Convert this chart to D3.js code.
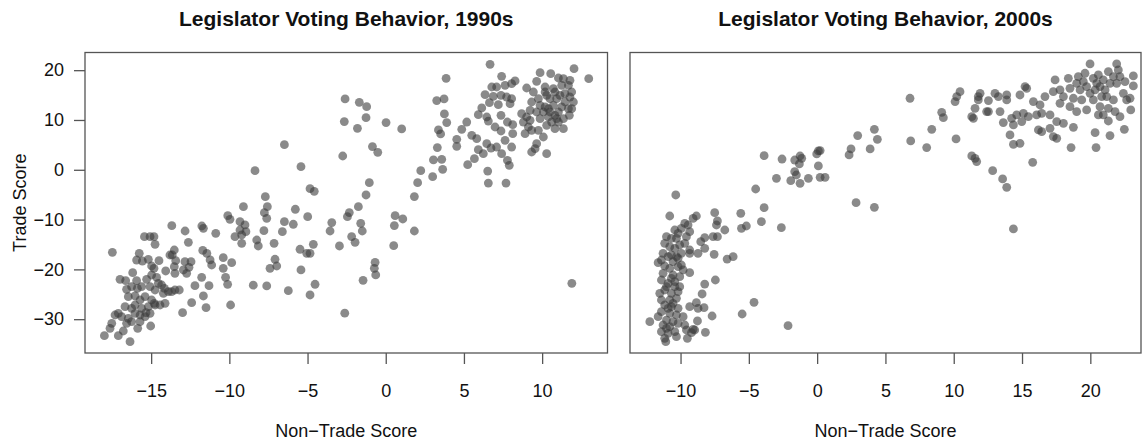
<!DOCTYPE html>
<html>
<head>
<meta charset="utf-8">
<script src="https://cdnjs.cloudflare.com/ajax/libs/d3/7.8.5/d3.min.js"></script>
<style>
  body { margin: 0; background: #fff; }
  text { font-family: "Liberation Sans", Arial, Helvetica, sans-serif; fill: #111; }
</style>
</head>
<body>
<svg id="chart" width="1143" height="441"></svg>
<script>
// [non-trade score, trade score]
var votes1990 = [
  [-17.48,-16.58],[-15.76,-16.78],[-15.93,-18.12],[-15.56,-18.32],[-15.18,-17.98],[-14.97,-19.32],[-14.82,-19.79],
  [-14.5,-18.25],[-13.52,-16.11],[-13.65,-17.11],[-13.8,-17.11],[-13.43,-18.25],[-12.84,-18.45],[-12.45,-18.45],
  [-12.58,-19.59],[-12.73,-20.79],[-12.94,-20.12],[-13.52,-19.45],[-13.48,-20.79],[-14.07,-20.32],[-16.18,-20.66],
  [-16.99,-22.0],[-16.63,-22.27],[-15.93,-22.27],[-16.25,-23.47],[-16.57,-24.0],[-15.88,-23.8],[-15.61,-23.47],
  [-15.29,-22.0],[-14.97,-21.13],[-14.65,-21.6],[-14.54,-22.8],[-15.07,-23.47],[-14.75,-24.14],[-14.33,-23.14],
  [-14.15,-23.8],[-13.9,-24.47],[-14.22,-24.81],[-13.69,-24.47],[-13.48,-24.14],[-13.2,-24.14],[-11.77,-21.6],
  [-11.3,-23.27],[-12.2,-23.27],[-11.66,-25.34],[-12.41,-26.68],[-11.49,-27.69],[-12.99,-28.69],[-9.92,-27.15],
  [-10.39,-17.65],[-9.85,-18.65],[-10.39,-19.79],[-10.24,-21.6],[-10.11,-23.0],[-16.46,-25.48],[-16.03,-25.34],
  [-15.71,-26.15],[-15.39,-25.48],[-14.97,-26.15],[-14.75,-27.15],[-15.18,-27.49],[-15.61,-27.82],[-16.03,-27.15],
  [-16.25,-27.82],[-16.67,-27.49],[-17.1,-28.82],[-17.31,-29.16],[-16.89,-29.49],[-16.46,-29.83],[-16.03,-28.82],
  [-15.71,-29.16],[-15.39,-29.49],[-15.07,-28.82],[-14.8,-26.82],[-14.43,-27.15],[-14.11,-26.82],[-15.71,-30.5],
  [-16.25,-30.5],[-16.57,-30.83],[-17.52,-30.83],[-17.63,-31.84],[-17.99,-33.31],[-17.1,-33.31],[-16.78,-32.37],
  [-16.35,-34.51],[-15.86,-31.84],[-15.03,-31.37],[-15.33,-28.69],
  [-8.94,-12.43],[-7.79,-12.23],[-11.44,-16.77],[-11.23,-18.11],[-11.13,-19.12],[-11.7,-16.2],
  [-6.48,5.04],[-8.36,-0.18],[-5.42,0.62],[-4.84,-3.8],[-4.57,-4.32],[-5.78,-7.93],[-4.99,-9.42],[-5.91,-10.94],
  [-5.48,-15.96],[-5.05,-16.77],[-4.84,-16.77],[-4.63,-14.96],[-5.42,-20.1],[-6.23,-24.28],[-4.52,-22.99],
  [-4.84,-25.14],[-7.7,-5.4],[-7.57,-7.41],[-7.76,-8.61],[-7.61,-9.74],[-9.1,-7.41],[-10.1,-9.22],[-9.96,-9.94],
  [-9.32,-10.42],[-9.0,-11.08],[-9.32,-12.09],[-9.21,-13.09],[-9.64,-13.43],[-9.21,-14.76],[-6.48,-10.42],
  [-6.61,-12.43],[-8.25,-14.1],[-8.15,-15.3],[-7.14,-14.76],[-7.08,-17.97],[-6.97,-19.32],[-7.4,-19.78],
  [-8.47,-23.17],[-7.61,-23.33],[-13.68,-11.22],[-12.83,-12.29],[-12.62,-14.56],[-11.76,-11.29],[-11.66,-11.75],
  [-10.87,-12.75],[-15.43,-13.43],[-15.07,-13.43],[-14.82,-13.43],[-14.75,-14.97],[-2.62,-28.8],
  [-2.6,14.22],[-1.69,13.55],[-1.22,12.68],[-1.26,10.47],[-2.65,9.67],[-1.81,8.33],[0.02,9.47],[1.02,8.2],
  [-0.85,4.65],[-0.51,3.51],[-2.75,2.77],[-1.05,-2.58],[-1.26,-5.06],[-1.75,-7.4],[-2.33,-8.6],[-2.45,-9.41],
  [-3.45,-10.61],[-3.56,-12.29],[-1.6,-10.75],[-1.5,-12.29],[-2.18,-13.42],[-1.96,-14.56],[-2.96,-15.3],
  [-0.68,-18.58],[-0.73,-19.78],[-0.64,-21.12],[-1.45,-22.2],[3.86,18.37],[3.26,13.89],[3.73,14.22],[3.75,11.21],
  [3.9,9.47],[3.37,8.0],[3.51,7.19],[3.3,4.45],[3.05,1.97],[3.58,2.1],[3.64,0.1],[3.0,-1.38],[2.24,-0.17],
  [2.04,-2.58],[1.83,-5.39],[0.6,-9.21],[1.09,-9.88],[0.55,-11.21],[1.83,-12.29],[0.51,-15.23],
  [6.67,21.17],[7.41,18.76],[8.05,17.29],[8.27,17.83],[7.63,16.96],[7.09,16.62],[6.78,16.62],[6.35,15.08],
  [6.88,14.75],[7.37,14.95],[7.73,14.61],[8.05,14.28],[7.95,13.28],[7.2,13.07],[6.63,13.48],[6.14,12.41],
  [5.92,11.07],[6.46,10.6],[6.56,9.79],[7.37,10.93],[6.99,8.59],[7.37,7.79],[7.78,9.59],[8.12,9.06],[8.12,7.25],
  [7.63,5.91],[8.05,4.57],[7.09,4.57],[6.46,5.24],[5.92,4.04],[6.24,3.24],[6.73,4.37],[7.41,3.24],[7.78,1.9],
  [7.9,0.89],[5.67,2.23],[5.24,1.03],[5.18,9.59],[4.86,8.12],[4.54,6.11],[4.54,4.71],[5.5,6.92],[5.82,6.25],
  [6.52,-0.25],[6.56,-2.66],[7.69,-2.66],
  [9.87,19.5],[10.55,19.3],[11.04,18.43],[11.36,18.3],[11.78,17.96],[12.04,20.3],[12.98,18.3],[9.01,16.42],
  [9.65,17.76],[10.19,16.62],[10.72,16.29],[11.25,16.96],[11.68,16.96],[9.33,13.61],[9.76,14.28],[10.29,14.95],
  [10.93,14.28],[11.46,15.28],[11.78,14.61],[12.0,13.61],[8.69,11.27],[9.23,11.94],[9.65,11.6],[10.19,12.61],
  [10.72,12.94],[11.25,12.61],[11.68,12.27],[11.89,12.27],[8.8,9.59],[9.23,9.93],[9.87,10.26],[10.4,10.6],
  [10.82,10.93],[11.36,10.26],[11.74,10.93],[8.91,7.25],[9.33,7.92],[9.76,7.92],[10.29,8.92],[10.82,8.26],
  [11.36,8.26],[10.08,6.58],[9.65,5.24],[9.33,3.57],[10.29,3.24],[9.55,4.24],[10.5,14.28],[10.08,11.6],
  [10.5,11.6],[11.04,11.6],[9.87,12.94],[11.14,14.95],[9.44,15.62],[9.01,10.6],[10.61,9.59],[11.04,9.59],
  [11.46,13.61],[10.19,15.62],[9.12,8.59],[11.89,15.62],[10.82,15.62],[10.4,12.27],[10.93,10.26],
  [11.9,-22.8]
];

var votes2000 = [
  [-3.88,2.83],[-2.57,2.16],[-1.64,1.96],[-2.98,-1.72],[-1.93,-2.19],[-1.64,-0.38],[-1.52,-1.05],[-4.5,-3.86],
  [-10.35,-5.06],[-10.79,-9.28],[-8.84,-9.28],[-9.08,-9.75],[-7.5,-8.61],[-7.3,-10.28],[-7.37,-11.09],
  [-6.76,-12.09],[-7.3,-13.43],[-7.62,-13.43],[-5.59,-8.75],[-5.54,-11.76],[-5.18,-11.29],[-3.88,-7.61],
  [-4.08,-10.42],[-2.62,-11.62],[-8.23,-13.63],[-8.52,-14.43],[-8.72,-16.78],[-8.23,-15.77],[-9.33,-16.78],
  [-7.54,-16.98],[-6.59,-17.92],[-6.15,-17.45],[-7.45,-22.13],[-8.23,-22.94],[-8.42,-24.94],[-8.84,-26.68],
  [-8.72,-27.82],[-8.28,-27.69],[-9.33,-27.49],[-7.69,-29.36],[-8.76,-30.36],[-9.08,-32.04],[-8.18,-32.64],
  [-9.5,-33.84],[-9.57,-32.17],[-4.62,-26.62],[-5.49,-28.96],[-2.13,-31.3],[-12.25,-30.5],[-11.08,-34.52],
  [-10.3,-33.51],
  [-9.69,-10.75],[-9.94,-11.76],[-10.42,-12.09],[-11.03,-13.43],[-10.67,-13.77],[-10.3,-13.77],[-9.57,-13.43],
  [-10.18,-12.76],[-9.33,-12.43],[-9.45,-11.09],[-11.16,-14.77],[-10.79,-15.44],[-10.42,-15.77],[-10.06,-15.1],
  [-9.69,-14.77],[-11.28,-16.78],[-10.67,-17.11],[-10.3,-17.45],[-9.94,-16.78],[-9.33,-16.11],[-11.64,-18.65],
  [-11.16,-19.32],[-10.79,-19.79],[-10.18,-19.45],[-9.94,-19.12],[-11.28,-20.79],[-10.55,-21.13],[-10.06,-21.46],
  [-9.33,-20.66],[-9.81,-20.12],[-11.4,-22.13],[-10.91,-22.8],[-10.42,-22.47],[-10.06,-23.47],[-11.16,-24.14],
  [-11.52,-24.81],[-10.67,-24.81],[-10.18,-24.47],[-11.4,-26.15],[-10.79,-26.15],[-10.3,-25.81],[-11.16,-27.15],
  [-10.67,-27.49],[-10.18,-27.82],[-11.4,-28.49],[-10.79,-28.83],[-10.3,-29.16],[-9.81,-29.5],[-11.03,-30.17],
  [-11.64,-29.5],[-11.28,-31.17],[-10.79,-31.5],[-10.18,-30.83],[-9.69,-31.17],[-11.4,-32.51],[-10.91,-32.84],
  [-10.42,-32.51],[-8.96,-32.17],[-9.2,-32.71],[-11.16,-33.85],[-10.91,-17.45],[-10.55,-18.45],[-11.03,-23.47],
  [-10.55,-26.82],[-10.91,-27.82],[-10.55,-30.5],[-11.03,-31.84],[-10.42,-23.47],[-11.4,-18.12],[-10.18,-17.78],
  [-10.67,-21.8],
  [2.97,6.86],[2.48,4.18],[2.34,2.98],[3.88,4.18],[2.85,-6.6],[-1.25,2.77],[-1.13,2.31],[-1.3,1.17],[0.09,3.78],
  [-0.03,3.18],[0.22,3.85],[0.09,0.77],[0.22,-1.51],[0.58,-1.51],[-0.64,-1.71],[-1.25,-2.71],
  [4.19,8.13],[4.41,6.12],[4.19,-7.53],[6.8,14.36],[6.85,5.79],[8.02,4.45],[8.39,8.13],[10.17,6.19],[9.12,11.54],
  [9.24,10.47],[10.1,13.69],[10.22,14.69],[10.46,15.69],[11.32,10.67],[11.44,10.34],[11.56,12.35],[11.8,14.69],
  [11.93,15.36],[11.8,14.02],[12.54,13.89],[12.41,11.68],[12.54,11.68],[13.02,15.36],[13.27,14.69],[13.88,15.02],
  [13.88,14.02],[13.39,11.68],[11.32,2.78],[11.56,2.31],[11.68,1.64],[12.85,-0.17],[13.58,-1.84],[13.88,-3.52],
  [14.37,-11.88],[13.63,9.47],[14.24,10.34],[14.61,11.01],[15.1,11.34],[15.46,10.67],[14.98,9.67],[14.37,9.0],
  [14.12,6.99],[14.37,5.12],[14.85,5.32],[14.85,15.02],[15.22,16.7],[15.34,16.36],[15.78,1.5],[15.83,13.69],
  [16.32,13.02],[16.07,11.01],[16.44,11.34],[16.2,8.0],[16.44,7.66],[17.05,11.01],[17.05,8.33],[17.29,6.66],
  [17.54,6.32],[17.54,9.67],[18.03,9.33],[18.76,8.53],[18.59,4.45],[20.42,4.45],[20.35,7.46],[21.44,6.86],
  [22.49,8.13],[16.68,14.69],[17.29,15.69],[17.42,18.04],[17.78,16.03],[18.39,18.37],[18.51,16.36],[19.0,17.37],
  [19.49,17.7],[19.98,21.25],[20.22,18.37],[20.47,17.37],[20.71,16.7],[21.32,19.71],[21.93,21.25],[22.05,20.04],
  [22.17,18.71],[21.93,17.37],[22.54,17.7],[23.15,18.84],[23.15,16.83],[22.91,14.36],[22.66,14.02],[22.42,15.36],
  [21.69,14.02],[21.32,12.35],[21.2,14.69],[20.71,12.68],[20.59,11.01],[20.95,11.01],[21.81,11.68],[22.17,10.67],
  [22.96,12.01],[21.32,9.8],[19.73,12.01],[19.0,11.68],[18.51,12.68],[19.25,16.03],[19.73,16.7],[19.98,15.36],
  [20.35,16.03],[20.95,18.04],[21.44,17.37],[21.69,18.71],[21.08,16.03],[18.76,14.36],[19.37,14.02],[20.22,14.02],
  [20.83,14.69],[18.03,14.69],[17.78,13.35],[19.61,19.38],[20.59,19.04],[19.12,18.71]
];

var yTicks = [-30, -20, -10, 0, 10, 20];
var xTicks1990 = [-15, -10, -5, 0, 5, 10];
var xTicks2000 = [-10, -5, 0, 5, 10, 15, 20];
var titles = ["Legislator Voting Behavior, 1990s", "Legislator Voting Behavior, 2000s"];

var svg = d3.select("#chart"),
    plotTop = 52.5,
    plotBottom = 353,
    y = d3.scaleLinear().domain([-36.79, 23.55]).range([plotBottom, plotTop]);

var panels = [
  { data: votes1990, ticks: xTicks1990, title: titles[0], left: 85,  right: 607.5, domain: [-19.23, 14.18], yAxis: true },
  { data: votes2000, ticks: xTicks2000, title: titles[1], left: 630, right: 1141,  domain: [-13.70, 23.71], yAxis: false }
];

panels.forEach(function(p) {
  var x = d3.scaleLinear().domain(p.domain).range([p.left, p.right]);
  var g = svg.append("g");

  g.append("g")
    .selectAll("circle")
    .data(p.data)
    .enter().append("circle")
    .attr("cx", function(d) { return x(d[0]); })
    .attr("cy", function(d) { return y(d[1]); })
    .attr("r", 4.4)
    .style("fill", "#3c3c3c")
    .style("fill-opacity", 0.6);

  g.append("rect")
    .attr("x", p.left)
    .attr("y", plotTop)
    .attr("width", p.right - p.left)
    .attr("height", plotBottom - plotTop)
    .style("fill", "none")
    .style("stroke", "#555")
    .style("stroke-width", 1.3);

  var xAxis = g.append("g")
    .attr("transform", "translate(0," + plotBottom + ")")
    .call(d3.axisBottom(x).tickValues(p.ticks).tickSize(11).tickPadding(20));
  xAxis.select(".domain").remove();

  if (p.yAxis) {
    var yAxis = g.append("g")
      .attr("transform", "translate(" + p.left + ",0)")
      .call(d3.axisLeft(y).tickValues(yTicks).tickSize(11).tickPadding(10));
    yAxis.select(".domain").remove();

    g.append("text")
      .attr("transform", "translate(25.5," + ((plotTop + plotBottom) / 2) + ") rotate(-90)")
      .attr("text-anchor", "middle")
      .style("font-size", "18px")
      .text("Trade Score");
  }

  g.selectAll(".tick line").style("stroke", "#555").style("stroke-width", 1.3);
  g.selectAll(".tick text")
    .style("font-size", "18px")
    .style("font-family", "'Liberation Sans', Arial, sans-serif")
    .style("fill", "#111");

  g.append("text")
    .attr("x", (p.left + p.right) / 2)
    .attr("y", 437)
    .attr("text-anchor", "middle")
    .style("font-size", "18px")
    .text("Non\u2212Trade Score");

  g.append("text")
    .attr("x", (p.left + p.right) / 2)
    .attr("y", 26)
    .attr("text-anchor", "middle")
    .style("font-size", "21px")
    .style("font-weight", "bold")
    .text(p.title);
});
</script>
</body>
</html>
